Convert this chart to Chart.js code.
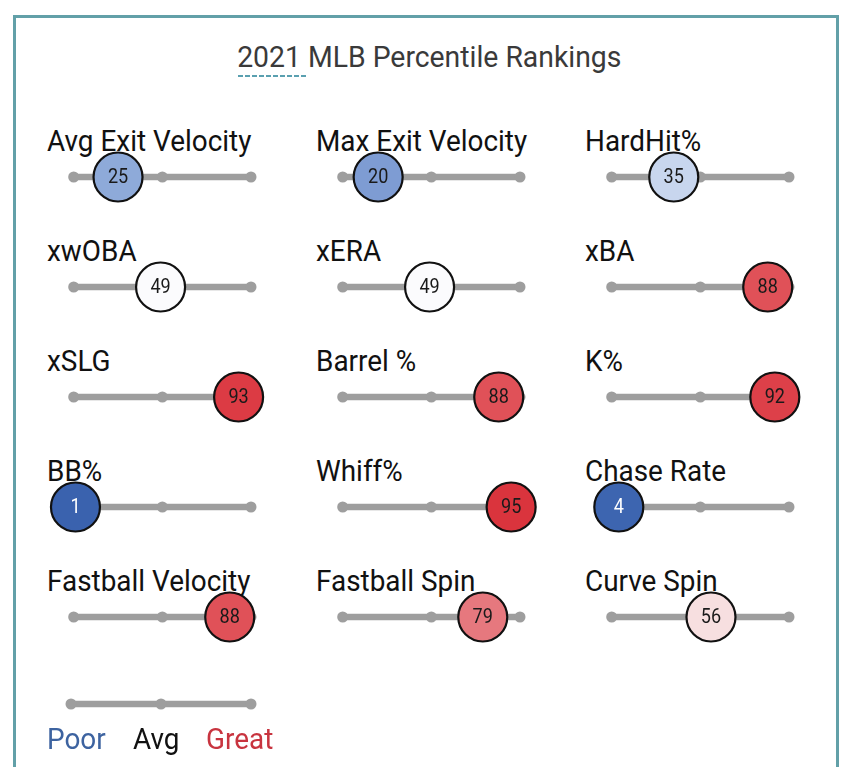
<!DOCTYPE html>
<html>
<head>
<meta charset="utf-8">
<script src="https://cdn.jsdelivr.net/npm/chart.js@4.4.0/dist/chart.umd.min.js"></script>
<style>
  body { margin: 0; background: #fff; width: 850px; height: 767px; overflow: hidden; position: relative; font-family: Roboto, sans-serif; }
  #frame { position: absolute; left: 13px; top: 15px; width: 826px; height: 800px; border: 3px solid #62a0a8; box-sizing: border-box; }
  #title { position: absolute; left: 0; width: 858px; top: 42px; text-align: center; line-height: 1; }
  #title span { display: inline-block; font-size: 30px; color: #3a3a3a; transform: scaleX(0.945); transform-origin: center; white-space: nowrap; }
  #dash { position: absolute; left: 238px; top: 75px; width: 70px; height: 2px;
    background: repeating-linear-gradient(to right, #5aa0b0 0 5px, transparent 5px 7px); }
  .lbl { position: absolute; font-size: 30px; line-height: 1; color: #111; white-space: nowrap;
    transform: scaleX(0.93); transform-origin: left center; }
  canvas { position: absolute; }
</style>
</head>
<body>
<div id="frame"></div>
<div id="title"><span>2021 MLB Percentile Rankings</span></div>
<div id="dash"></div>
<script>
const metrics = ['Avg Exit Velocity', 'Max Exit Velocity', 'HardHit%',
                 'xwOBA', 'xERA', 'xBA',
                 'xSLG', 'Barrel %', 'K%',
                 'BB%', 'Whiff%', 'Chase Rate',
                 'Fastball Velocity', 'Fastball Spin', 'Curve Spin'];
const percentiles = [25, 20, 35, 49, 49, 88, 93, 88, 92, 1, 95, 4, 88, 79, 56];
const fillColors = ['#8eaad9', '#7e9cd3', '#c8d6ee', '#fbfbfd', '#fbfbfd', '#e05158',
                    '#dc3b44', '#e05158', '#dd4049', '#3a62ae', '#da343d', '#3d65b0',
                    '#e05158', '#e6787e', '#f7dfe0'];
const trackTicks = [0, 50, 100];
const legendLabels = ['Poor', 'Avg', 'Great'];
const legendColors = ['#3d63a0', '#111111', '#c8343f'];

const colStep = 269, rowStep = 110;

const valueLabel = {
  id: 'valueLabel',
  afterDatasetsDraw(chart) {
    const ds = chart.data.datasets[0];
    if (!ds.isValue) return;
    const pt = chart.getDatasetMeta(0).data[0];
    const ctx = chart.ctx;
    const v = ds.data[0].x;
    ctx.save();
    ctx.translate(pt.x, pt.y + 1);
    ctx.scale(0.86, 1);
    ctx.font = '21px Roboto';
    ctx.textAlign = 'center';
    ctx.textBaseline = 'middle';
    ctx.fillStyle = v < 10 ? '#ffffff' : '#1a1a1a';
    ctx.fillText(String(v), 0, 0);
    ctx.restore();
  }
};

function trackDataset() {
  return {
    type: 'line',
    data: trackTicks.map(t => ({ x: t, y: 0 })),
    borderColor: '#9e9e9e',
    borderWidth: 6.5,
    pointRadius: 5.5,
    pointBackgroundColor: '#9e9e9e',
    pointBorderWidth: 0,
    clip: false,
    order: 1
  };
}

function makeCell(left, top, datasets) {
  const c = document.createElement('canvas');
  c.width = 240; c.height = 60;
  c.style.left = left + 'px'; c.style.top = top + 'px';
  document.body.appendChild(c);
  new Chart(c, {
    type: 'scatter',
    data: { datasets },
    options: {
      responsive: false,
      animation: false,
      events: [],
      layout: { padding: { left: 24, right: 36, top: 0, bottom: 0 } },
      scales: {
        x: { type: 'linear', min: 0, max: 100, display: false },
        y: { min: -1, max: 1, display: false }
      },
      plugins: { legend: { display: false }, tooltip: { enabled: false } }
    },
    plugins: [valueLabel]
  });
}

metrics.forEach((name, i) => {
  const col = i % 3, row = Math.floor(i / 3);
  const left = 47 + col * colStep;
  const trackY = 177 + row * rowStep;
  const lbl = document.createElement('div');
  lbl.className = 'lbl';
  lbl.textContent = name;
  lbl.style.left = left + 'px';
  lbl.style.top = (trackY - 51) + 'px';
  document.body.appendChild(lbl);
  makeCell(left, trackY - 30, [
    {
      isValue: true,
      data: [{ x: percentiles[i], y: 0 }],
      pointRadius: 24.5,
      pointBackgroundColor: fillColors[i],
      pointBorderColor: '#111111',
      pointBorderWidth: 2.2,
      clip: false,
      order: 0
    },
    trackDataset()
  ]);
});

// legend track
makeCell(47, 704 - 30, [trackDataset()]);
const legendX = [47, 133, 206];
legendLabels.forEach((t, i) => {
  const d = document.createElement('div');
  d.className = 'lbl';
  d.textContent = t;
  d.style.left = legendX[i] + 'px';
  d.style.top = '724px';
  d.style.color = legendColors[i];
  document.body.appendChild(d);
});
</script>
</body>
</html>
